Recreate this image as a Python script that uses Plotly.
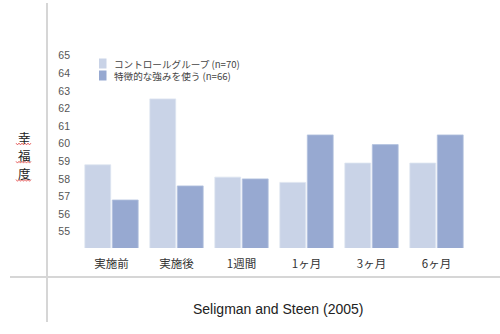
import plotly.graph_objects as go

categories = ["実施前", "実施後", "1週間", "1ヶ月", "3ヶ月", "6ヶ月"]
control_name = "コントロールグループ (n=70)"
strength_name = "特徴的な強みを使う (n=66)"
control_values = [58.8, 62.55, 58.1, 57.8, 58.9, 58.9]
strength_values = [56.8, 57.6, 58.0, 60.5, 59.95, 60.5]
y_ticks = list(range(55, 66))
y_label_chars = ["幸", "福", "度"]
source_text = "Seligman and Steen (2005)"

W, H = 500, 334
ML, MR, MT, MB = 79, 31, 47, 86
PW, PH = W - ML - MR, H - MT - MB

def px_x(x):
    return (x - ML) / PW

def px_y(y):
    return (H - MB - y) / PH

c_light = "#c9d3e7"
c_dark = "#97a9d1"

fig = go.Figure()
fig.add_trace(go.Bar(x=categories, y=control_values, name=control_name,
                     marker=dict(color=c_light, line=dict(color="#dde4f0", width=0.8)),
                     showlegend=False))
fig.add_trace(go.Bar(x=categories, y=strength_values, name=strength_name,
                     marker=dict(color=c_dark, line=dict(color="#b3c1de", width=0.8)),
                     showlegend=False))

shapes = []
annotations = []
# frame lines
shapes.append(dict(type="line", xref="paper", yref="paper",
                   x0=px_x(47), x1=px_x(47), y0=px_y(3), y1=px_y(322),
                   line=dict(color="#d6d6d6", width=2)))
shapes.append(dict(type="line", xref="paper", yref="paper",
                   x0=px_x(10), x1=px_x(500), y0=px_y(277), y1=px_y(277),
                   line=dict(color="#d6d6d6", width=2)))

# custom legend: swatches + one two-line text block
for i, col in enumerate([c_light, c_dark]):
    top = 58.5 + i * 12
    shapes.append(dict(type="rect", xref="paper", yref="paper",
                       x0=px_x(99), x1=px_x(106.5), y0=px_y(top), y1=px_y(top + 10),
                       fillcolor=col, line=dict(width=0)))
annotations.append(dict(text="<br>".join([control_name, strength_name]),
                        xref="paper", yref="paper", align="left",
                        x=px_x(112), y=px_y(69.5), xanchor="left", yanchor="middle",
                        showarrow=False, font=dict(size=9.6, color="#444",
                                                   family="Noto Sans CJK JP")))

# y label (vertical, one character per annotation)
for i, ch in enumerate(y_label_chars):
    cy = 137 + i * 18.2
    annotations.append(dict(text=ch, xref="paper", yref="paper",
                            x=px_x(24), y=px_y(cy), xanchor="center", yanchor="middle",
                            showarrow=False, font=dict(size=12.5, color="#222",
                                                       family="Noto Sans CJK JP")))
    wy = cy + 7
    pts = []
    x = 16.0
    k = 0
    while x <= 32:
        yy = wy + (1 if k % 2 else -1) * 0.9
        pts.append(f"{px_x(x):.5f},{px_y(yy):.5f}")
        x += 1.5
        k += 1
    path = "M" + " L".join(pts)
    shapes.append(dict(type="path", xref="paper", yref="paper", path=path,
                       line=dict(color="#e04040", width=0.8)))

annotations.append(dict(text=source_text, xref="paper", yref="paper",
                        x=px_x(278), y=px_y(309), xanchor="center", yanchor="middle",
                        showarrow=False, font=dict(size=14, color="#222",
                                                   family="Liberation Sans, Arial")))

fig.update_layout(
    width=W, height=H,
    margin=dict(l=ML, r=MR, t=MT, b=MB),
    paper_bgcolor="white", plot_bgcolor="white",
    barmode="group", bargap=0.154, bargroupgap=0.06,
    shapes=shapes, annotations=annotations,
    xaxis=dict(showgrid=False, showline=False, zeroline=False, ticks="",
               ticklabelstandoff=7,
               tickfont=dict(size=11.5, color="#333", family="Noto Sans CJK JP"),
               range=[-0.5, 5.5]),
    yaxis=dict(showgrid=False, showline=False, zeroline=False, ticks="",
               ticklabelstandoff=8,
               tickvals=y_ticks, range=[54.07, 65.5],
               tickfont=dict(size=10.5, color="#555", family="Liberation Sans, Arial")),
)

fig.write_html("out.html")
